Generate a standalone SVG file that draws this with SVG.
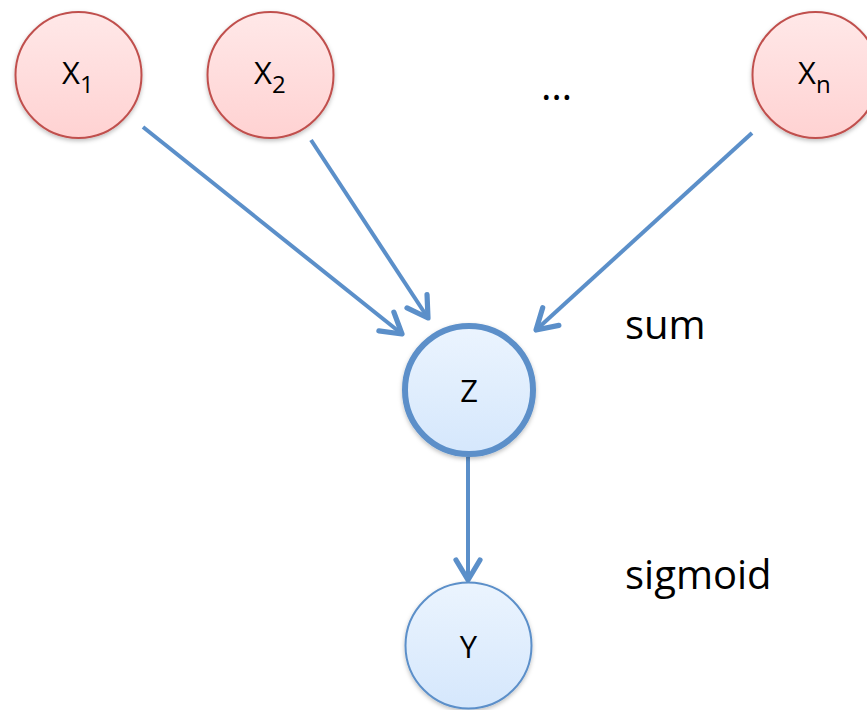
<svg xmlns="http://www.w3.org/2000/svg" width="867" height="710" viewBox="0 0 867 710">
  <style>
    .in { stroke: #c0504d; stroke-width: 2; }
    .out { stroke: #5b8fc9; }
    .lbl { font-family: "Open Sans", "Liberation Sans", sans-serif; font-size: 31px; fill: #000; }
    .sub { font-size: 24px; }
    .dots { font-family: "Open Sans", "Liberation Sans", sans-serif; font-size: 40px; fill: #000; }
    .side { font-family: "Open Sans", "Liberation Sans", sans-serif; font-size: 40px; fill: #000; }
    .edge { stroke: #5b8fc9; stroke-width: 4; fill: none; marker-end: url(#head); }
  </style>
  <defs>
    <linearGradient id="redFill" x1="0" y1="0" x2="0" y2="1">
      <stop offset="0" stop-color="#ffe8e8"/>
      <stop offset="1" stop-color="#ffd2d2"/>
    </linearGradient>
    <linearGradient id="blueFill" x1="0" y1="0" x2="0" y2="1">
      <stop offset="0" stop-color="#ebf4fe"/>
      <stop offset="1" stop-color="#d5e7fc"/>
    </linearGradient>
    <filter id="shade" x="-20%" y="-20%" width="140%" height="140%">
      <feDropShadow dx="0" dy="2" stdDeviation="2" flood-color="#000" flood-opacity="0.25"/>
    </filter>
    <marker id="head" markerWidth="8" markerHeight="8" refX="6.5" refY="4" orient="auto" markerUnits="strokeWidth" viewBox="0 0 8 8">
      <polyline points="1.5,1 6.5,4 1.5,7" fill="none" stroke="#5b8fc9" stroke-width="1.3" stroke-linecap="round" stroke-linejoin="round"/>
    </marker>
  </defs>

  <!-- connectors -->
  <g id="edges">
    <line class="edge" x1="143" y1="127" x2="402" y2="334"/>
    <line class="edge" x1="311" y1="140" x2="428" y2="318"/>
    <line class="edge" x1="752" y1="133" x2="536" y2="330"/>
    <line class="edge" x1="468" y1="457" x2="468" y2="580"/>
  </g>

  <!-- input nodes -->
  <g id="x1">
    <circle cx="78.5" cy="75" r="63" fill="url(#redFill)" class="in" filter="url(#shade)"/>
    <text class="lbl" x="62" y="84">X<tspan class="sub" dy="9">1</tspan></text>
  </g>
  <g id="x2">
    <circle cx="270.5" cy="75" r="63" fill="url(#redFill)" class="in" filter="url(#shade)"/>
    <text class="lbl" x="254" y="84">X<tspan class="sub" dy="9">2</tspan></text>
  </g>
  <g id="ellipsis">
    <text class="dots" x="541" y="100">…</text>
  </g>
  <g id="xn">
    <circle cx="815.5" cy="75" r="63" fill="url(#redFill)" class="in" filter="url(#shade)"/>
    <text class="lbl" x="798" y="84">X<tspan class="sub" dy="9">n</tspan></text>
  </g>

  <!-- sum node -->
  <g id="z">
    <circle cx="469" cy="390" r="64" fill="url(#blueFill)" class="out" stroke-width="6" filter="url(#shade)"/>
    <text class="lbl" x="469" y="402" text-anchor="middle">Z</text>
  </g>

  <!-- output node -->
  <g id="y">
    <circle cx="468.5" cy="645.5" r="63" fill="url(#blueFill)" class="out" stroke-width="2" filter="url(#shade)"/>
    <text class="lbl" x="468.5" y="658" text-anchor="middle">Y</text>
  </g>

  <g id="labels">
    <text class="side" x="625" y="339">sum</text>
    <text class="side" x="625" y="589">sigmoid</text>
  </g>
</svg>
